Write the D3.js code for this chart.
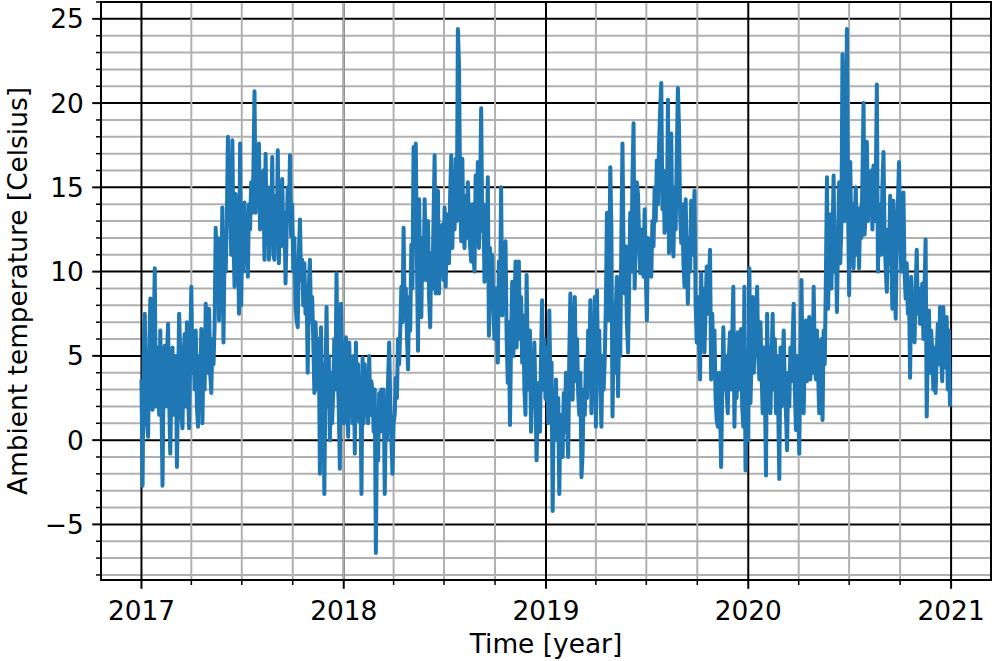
<!DOCTYPE html>
<html>
<head>
<meta charset="utf-8">
<script src="https://cdn.jsdelivr.net/npm/d3@7"></script>
<style>
  body { margin: 0; background: #fff; }
  svg { display: block; }
  text { font-family: "DejaVu Sans", sans-serif; }
</style>
</head>
<body>
<svg id="chart" width="992" height="661"></svg>
<script>
// Ambient temperature, one reading every second day from 1 January of each year (°C)
const temps2017 = [3.6,-2.7,5.0,7.5,3.0,1.0,0.2,5.0,8.4,3.5,1.8,6.0,10.2,2.0,4.5,5.5,1.5,6.5,2.5,-2.7,4.0,5.6,2.0,5.0,6.9,2.5,-0.8,3.5,5.5,1.5,2.0,5.0,-1.6,3.0,7.5,5.0,1.5,0.7,5.0,6.3,2.0,7.0,3.0,0.7,5.5,9.1,4.0,6.0,3.0,6.5,2.0,0.8,5.0,3.0,6.6,1.0,5.5,3.0,8.1,4.0,7.5,7.8,4.0,2.8,6.0,4.5,6.8,12.6,10.0,12.0,7.1,10.5,9.0,13.8,5.8,11.5,10.0,13.0,18.0,13.0,15.0,11.0,17.8,12.0,9.1,14.6,11.0,13.5,7.5,17.6,8.0,12.5,10.0,14.1,11.5,13.0,9.7,14.0,12.5,15.3,13.5,16.0,20.7,13.5,16.5,14.0,17.6,12.5,15.5,13.1,16.0,10.7,17.0,12.0,15.0,10.7,14.0,12.0,16.8,11.0,10.7,14.5,12.0,17.2,10.5,14.0,11.5,15.5,12.0,13.5,9.3,12.5,15.0,13.0,16.9,12.1,14.0,10.0,12.0,8.0,7.1,6.7,11.0,13.1,9.5,10.7,8.0,10.5,7.5,9.0,4.0,9.0,10.7,7.0,8.5,6.0,2.8,7.0,5.5,3.0,6.0,-2.0,6.7,2.0,4.5,-3.2,3.5,7.9,2.0,5.0,0.0,4.0,1.0,2.8,6.0,3.0,9.9,4.0,2.0,-1.7,8.1,4.5,3.0];

const temps2018 = [1.0,4.5,6.1,2.0,0.2,5.8,2.5,4.0,1.0,5.0,-0.8,5.8,2.0,4.5,1.1,3.5,-3.2,4.9,1.0,4.5,2.0,3.5,1.0,5.0,1.5,3.5,2.8,0.5,3.0,-6.7,1.0,-1.2,2.8,0.5,3.0,1.0,3.0,-3.2,1.5,0.0,3.5,5.8,2.0,0.0,-2.0,1.0,1.5,3.7,2.5,6.0,4.5,6.5,9.1,7.0,12.6,7.5,9.0,6.3,4.2,8.5,6.5,11.6,9.0,17.4,12.0,17.6,11.0,5.3,14.3,9.0,7.3,12.0,9.5,14.3,11.0,9.5,13.0,8.5,6.7,11.1,9.0,13.0,16.9,8.7,12.0,14.8,8.7,12.5,10.0,12.8,9.5,13.8,9.1,12.5,13.4,10.5,14.5,16.9,11.4,15.0,12.5,16.7,13.0,24.4,22.3,15.0,11.8,16.7,12.5,11.4,14.5,12.0,15.3,13.0,11.5,10.6,14.0,11.0,10.0,15.7,12.0,16.5,11.4,14.5,19.7,12.4,14.0,9.4,13.0,11.0,15.6,6.2,11.4,9.0,11.0,7.5,6.0,9.0,7.0,4.6,10.6,8.0,15.0,7.4,10.0,8.0,11.8,6.0,3.4,7.0,0.9,6.0,9.4,5.0,7.5,10.6,5.5,8.5,10.6,6.0,8.5,4.6,7.4,3.0,1.5,9.8,5.0,3.0,6.5,0.5,4.0,2.0,5.8,2.5,-1.2,2.0,3.4,0.5,5.0,8.3,3.0,6.0,2.5];

const temps2019 = [2.4,5.5,1.0,7.7,3.0,4.6,-4.2,2.0,0.0,3.6,0.5,2.5,-3.2,1.5,0.0,-1.0,2.8,0.5,4.0,1.0,-1.0,5.0,8.7,4.0,2.4,6.0,8.5,3.5,6.0,2.8,1.5,4.0,-2.2,-0.8,3.0,1.5,4.8,2.5,6.5,4.0,8.3,1.6,6.0,3.5,8.5,0.8,8.9,4.0,6.5,3.0,0.8,5.0,3.0,4.8,8.0,13.5,7.1,10.0,16.2,12.6,1.4,6.0,4.0,8.0,9.7,2.6,6.7,5.0,12.0,17.6,11.0,8.7,11.5,7.0,5.2,9.0,13.5,10.0,15.5,18.8,9.0,12.0,15.3,14.6,12.0,9.9,12.5,10.5,9.7,13.7,10.0,7.1,12.0,10.0,11.9,9.7,13.0,11.5,15.0,13.0,16.6,14.0,17.5,19.6,21.2,13.7,16.0,12.3,14.5,12.5,20.2,11.1,15.0,18.2,12.0,10.9,15.0,12.5,17.0,20.9,18.6,13.5,11.7,14.0,10.5,9.1,14.3,11.0,8.1,12.0,10.0,14.2,11.0,13.0,14.8,8.0,5.8,8.5,6.0,3.6,9.9,7.0,9.0,5.2,8.0,10.3,7.5,9.0,11.3,3.6,7.5,5.0,6.5,2.5,1.2,0.8,4.0,2.0,-1.6,3.0,6.7,3.0,5.0,2.8,1.6,5.0,6.4,3.0,6.0,9.1,0.8,5.0,2.5,6.4,3.0,5.5,6.6,2.0,0.8,9.1,-1.8,4.0,1.0];

const temps2020 = [0.0,10.2,2.2,5.0,8.5,4.0,6.5,7.5,9.1,5.0,3.6,7.0,4.0,1.6,5.5,3.0,-2.1,7.5,3.0,5.5,1.6,5.0,7.5,3.0,6.0,1.6,5.0,2.0,-2.3,5.5,2.0,4.5,6.5,3.0,1.6,-0.6,4.0,2.0,5.5,3.5,6.0,8.1,3.0,0.6,5.0,2.5,-0.8,5.0,9.5,4.0,1.6,5.5,7.1,3.5,6.0,7.3,3.6,6.5,4.0,9.1,5.0,3.6,6.5,4.0,1.6,3.6,6.0,1.2,6.5,4.5,9.5,15.6,7.8,11.0,13.4,9.0,12.0,15.7,10.0,12.5,7.6,12.0,15.3,10.5,12.6,22.9,16.7,13.0,16.0,24.4,14.0,8.6,16.5,12.0,14.0,10.2,13.0,15.0,11.0,13.5,10.2,13.8,12.0,15.5,20.0,12.2,14.0,17.7,13.0,15.0,13.4,16.0,12.5,16.3,13.0,15.0,21.1,10.0,14.0,12.9,11.0,15.0,17.1,12.0,10.2,8.8,12.5,10.5,14.5,11.0,7.8,14.2,10.0,7.2,12.0,14.0,16.5,12.5,10.0,11.4,14.7,10.0,8.4,10.5,7.5,9.0,3.7,9.7,6.5,8.5,5.8,9.0,11.3,7.5,9.0,6.9,8.0,9.3,6.0,9.0,11.9,1.4,5.5,7.7,4.0,6.5,5.3,3.0,5.5,2.8,5.0,6.9,4.5,7.9,5.0,3.5,7.9,5.0,4.3,7.3,3.0,6.5,2.0];

const sampleStepDays = 2;
const yearlySeries = [[2017, temps2017], [2018, temps2018], [2019, temps2019], [2020, temps2020]];

// Axis ticks and labels
const yearTicks = [2017, 2018, 2019, 2020, 2021];
const quarterMonths = [3, 6, 9];           // Apr, Jul, Oct (0-based months)
const yMajorTicks = [-5, 0, 5, 10, 15, 20, 25];
const yLimits = [-8.3, 26.0];
const xLabel = "Time [year]";
const yLabel = "Ambient temperature [Celsius]";

const DAY = 864e5;
const origin = Date.UTC(2017, 0, 1);
const series = yearlySeries.flatMap(([yr, vals]) =>
  vals.map((v, i) => ({ date: d3.utcDay.offset(new Date(Date.UTC(yr, 0, 1)), i * sampleStepDays), value: v })));

// Plot area
const plotLeft = 101, plotRight = 991, plotTop = 2, plotBottom = 580;
const svg = d3.select("#chart");

const x = d3.scaleUtc()
  .domain([new Date(origin - 73 * DAY), new Date(origin + 1533 * DAY)])
  .range([plotLeft, plotRight]);
const y = d3.scaleLinear().domain(yLimits).range([plotBottom, plotTop]);

const yearDates = yearTicks.map(yr => new Date(Date.UTC(yr, 0, 1)));
const quarterDates = yearTicks.slice(0, -1)
  .flatMap(yr => quarterMonths.map(m => new Date(Date.UTC(yr, m, 1))));
// light grid also passes over the 2018 year line
const lightVerticalGrid = quarterDates.concat([new Date(Date.UTC(2018, 0, 1))]);
const yMinorTicks = d3.range(Math.ceil(yLimits[0]), Math.floor(yLimits[1]) + 1)
  .filter(v => v % 5 !== 0);

const fontSize = 26.4;
const gridGray = "#b0b0b0";

// Grid: dark lines at years and multiples of 5, light lines elsewhere
const grid = svg.append("g");
grid.selectAll("line.hmin").data(yMinorTicks).join("line")
  .attr("x1", plotLeft).attr("x2", plotRight).attr("y1", d => y(d)).attr("y2", d => y(d))
  .attr("stroke", gridGray).attr("stroke-width", 2);
grid.selectAll("line.vmaj").data(yearDates).join("line")
  .attr("x1", d => x(d)).attr("x2", d => x(d)).attr("y1", plotTop).attr("y2", plotBottom)
  .attr("stroke", "#000").attr("stroke-width", 2);
grid.selectAll("line.hmaj").data(yMajorTicks).join("line")
  .attr("x1", plotLeft).attr("x2", plotRight).attr("y1", d => y(d)).attr("y2", d => y(d))
  .attr("stroke", "#000").attr("stroke-width", 2);
grid.selectAll("line.vmin").data(lightVerticalGrid).join("line")
  .attr("x1", d => x(d)).attr("x2", d => x(d)).attr("y1", plotTop).attr("y2", plotBottom)
  .attr("stroke", gridGray).attr("stroke-width", 2);

// Temperature trace
svg.append("path")
  .datum(series)
  .attr("fill", "none")
  .attr("stroke", "#1f77b4")
  .attr("stroke-width", 4)
  .attr("stroke-linejoin", "round")
  .attr("d", d3.line().x(d => x(d.date)).y(d => y(d.value)));

// Frame
svg.append("rect")
  .attr("x", plotLeft).attr("y", plotTop)
  .attr("width", plotRight - plotLeft).attr("height", plotBottom - plotTop)
  .attr("fill", "none").attr("stroke", "#000").attr("stroke-width", 2);

// Axes
const styleAxis = g => {
  g.select(".domain").remove();
  g.selectAll(".tick line").attr("stroke", "#000");
  g.selectAll(".tick text").attr("fill", "#000").attr("font-size", fontSize)
    .attr("font-family", "DejaVu Sans, sans-serif");
};

svg.append("g").attr("transform", `translate(0,${plotBottom})`)
  .call(d3.axisBottom(x).tickValues(quarterDates).tickSize(5).tickFormat("").offset(0))
  .call(styleAxis)
  .selectAll(".tick line").attr("stroke-width", 1.5);

svg.append("g").attr("transform", `translate(0,${plotBottom})`)
  .call(d3.axisBottom(x).tickValues(yearDates).tickSize(8.75).tickPadding(8.5)
    .tickFormat(d3.utcFormat("%Y")).offset(0))
  .call(styleAxis)
  .call(g => g.selectAll(".tick line").attr("stroke-width", 2))
  .call(g => g.selectAll(".tick text").attr("dy", 22.3));

svg.append("g").attr("transform", `translate(${plotLeft},0)`)
  .call(d3.axisLeft(y).tickValues(yMinorTicks).tickSize(5).tickFormat("").offset(0))
  .call(styleAxis)
  .selectAll(".tick line").attr("stroke-width", 1.5);

svg.append("g").attr("transform", `translate(${plotLeft},0)`)
  .call(d3.axisLeft(y).tickValues(yMajorTicks).tickSize(8.75).tickPadding(8.5)
    .tickFormat(d => d < 0 ? "\u2212" + Math.abs(d) : String(d)).offset(0))
  .call(styleAxis)
  .call(g => g.selectAll(".tick line").attr("stroke-width", 2))
  .call(g => g.selectAll(".tick text").attr("dy", "0.36em"));

// Axis titles
svg.append("text")
  .attr("x", (plotLeft + plotRight) / 2).attr("y", 653)
  .attr("text-anchor", "middle").attr("font-size", fontSize).attr("fill", "#000")
  .text(xLabel);

svg.append("text")
  .attr("transform", `translate(27,${(plotTop + plotBottom) / 2}) rotate(-90)`)
  .attr("text-anchor", "middle").attr("font-size", fontSize).attr("fill", "#000")
  .text(yLabel);
</script>
</body>
</html>
